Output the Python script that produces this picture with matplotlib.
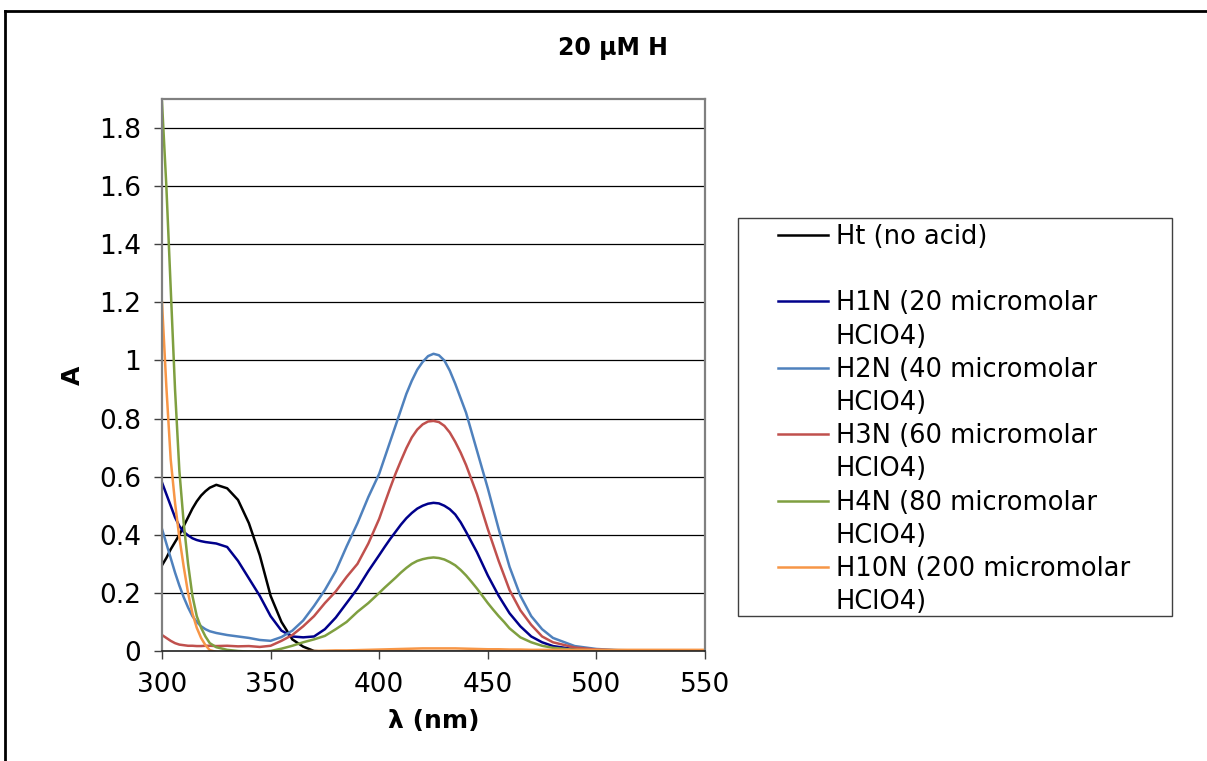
import matplotlib
matplotlib.use("Agg")
import matplotlib.pyplot as plt
from matplotlib.lines import Line2D
from matplotlib.patches import Rectangle

# absorbance spectra, 20 uM H with increasing HClO4
wavelength = [300, 302, 304, 306, 308, 310, 312, 314, 316, 318, 320, 322,
              325, 330, 335, 340, 345, 350, 355, 360, 365, 370, 375, 380, 385, 390, 395,
              400, 402.5, 405, 407.5, 410, 412.5, 415, 417.5, 420, 422.5, 425, 427.5,
              430, 432.5, 435, 437.5, 440, 442.5, 445, 447.5, 450, 452.5, 455, 457.5, 460,
              465, 470, 475, 480, 490, 500, 510, 520, 530, 540, 550]

ht = [0.295, 0.32, 0.35, 0.375, 0.40, 0.43, 0.46, 0.49, 0.515, 0.535, 0.55, 0.562,
      0.572, 0.56, 0.52, 0.44, 0.33, 0.19, 0.10, 0.04, 0.015, 0.0, -0.002, -0.003, -0.003, -0.003, -0.003,
      -0.003, -0.003, -0.003, -0.003, -0.003, -0.003, -0.003, -0.003, -0.003, -0.003, -0.003, -0.003,
      -0.003, -0.003, -0.003, -0.003, -0.003, -0.003, -0.003, -0.003, -0.003, -0.003, -0.003, -0.003, -0.003,
      -0.003, -0.003, -0.003, -0.003, -0.003, -0.003, -0.003, -0.003, -0.003, -0.003, -0.003]

h1n = [0.58, 0.54, 0.50, 0.46, 0.43, 0.41, 0.398, 0.388, 0.382, 0.378, 0.375, 0.373,
       0.37, 0.358, 0.31, 0.25, 0.19, 0.12, 0.07, 0.05, 0.047, 0.05, 0.075, 0.115, 0.165, 0.215, 0.275,
       0.33, 0.358, 0.385, 0.41, 0.435, 0.457, 0.475, 0.49, 0.50, 0.507, 0.51, 0.508,
       0.50, 0.488, 0.47, 0.443, 0.41, 0.375, 0.34, 0.30, 0.26, 0.225, 0.19, 0.16, 0.13,
       0.085, 0.05, 0.03, 0.017, 0.006, 0.002, 0.0, -0.002, -0.002, -0.002, -0.002]

h2n = [0.42, 0.37, 0.32, 0.27, 0.225, 0.185, 0.15, 0.12, 0.1, 0.085, 0.075, 0.068,
       0.062, 0.055, 0.05, 0.045, 0.038, 0.035, 0.048, 0.07, 0.105, 0.155, 0.21, 0.275, 0.36, 0.44, 0.53,
       0.61, 0.665, 0.72, 0.775, 0.83, 0.885, 0.93, 0.968, 0.995, 1.015, 1.023, 1.018,
       1.0, 0.965, 0.92, 0.87, 0.82, 0.755, 0.69, 0.625, 0.56, 0.49, 0.42, 0.355, 0.29,
       0.19, 0.12, 0.075, 0.045, 0.017, 0.007, 0.003, 0.002, 0.001, 0.001, 0.001]

h3n = [0.055, 0.045, 0.035, 0.027, 0.022, 0.02, 0.018, 0.018, 0.017, 0.017, 0.018, 0.018,
       0.017, 0.018, 0.016, 0.017, 0.014, 0.018, 0.035, 0.055, 0.085, 0.12, 0.165, 0.205, 0.255, 0.30, 0.37,
       0.455, 0.508, 0.56, 0.61, 0.655, 0.698, 0.735, 0.762, 0.78, 0.79, 0.792, 0.788,
       0.775, 0.752, 0.72, 0.683, 0.64, 0.59, 0.54, 0.48, 0.42, 0.365, 0.31, 0.26, 0.21,
       0.14, 0.09, 0.05, 0.03, 0.012, 0.005, 0.002, 0.001, 0.001, 0.001, 0.001]

h4n = [1.89, 1.6, 1.25, 0.9, 0.62, 0.44, 0.3, 0.19, 0.12, 0.08, 0.05, 0.027,
       0.013, 0.004, 0.0, -0.002, -0.002, 0.0, 0.008, 0.018, 0.03, 0.04, 0.052, 0.075, 0.10, 0.135, 0.165,
       0.20, 0.218, 0.235, 0.252, 0.27, 0.286, 0.30, 0.31, 0.316, 0.32, 0.322, 0.32,
       0.315, 0.306, 0.295, 0.279, 0.26, 0.238, 0.215, 0.19, 0.165, 0.142, 0.12, 0.1, 0.078,
       0.047, 0.03, 0.018, 0.011, 0.004, 0.002, 0.001, 0.0, 0.0, 0.0, 0.0]

h10n = [1.2, 0.91, 0.66, 0.51, 0.39, 0.29, 0.2, 0.13, 0.08, 0.045, 0.02, 0.003,
        -0.003, -0.005, -0.004, -0.003, -0.003, -0.002, -0.002, -0.001, 0.0, 0.0, 0.001, 0.002, 0.002, 0.003, 0.004,
        0.005, 0.0055, 0.006, 0.0065, 0.007, 0.0075, 0.008, 0.0085, 0.009, 0.009, 0.009, 0.009,
        0.009, 0.009, 0.009, 0.0085, 0.008, 0.0075, 0.007, 0.0065, 0.006, 0.006, 0.006, 0.0055, 0.005,
        0.005, 0.004, 0.004, 0.004, 0.004, 0.004, 0.004, 0.004, 0.004, 0.004, 0.004]

series = [ht, h1n, h2n, h3n, h4n, h10n]
colors = ["#000000", "#00008B", "#4F81BD", "#C0504D", "#7F9F40", "#F79646"]

legend_labels = ["Ht (no acid)", "",
                 "H1N (20 micromolar", "HClO4)",
                 "H2N (40 micromolar", "HClO4)",
                 "H3N (60 micromolar", "HClO4)",
                 "H4N (80 micromolar", "HClO4)",
                 "H10N (200 micromolar", "HClO4)"]

x_ticks = [300, 350, 400, 450, 500, 550]
y_ticks = [0, 0.2, 0.4, 0.6, 0.8, 1.0, 1.2, 1.4, 1.6, 1.8]
y_tick_labels = ["0", "0.2", "0.4", "0.6", "0.8", "1", "1.2", "1.4", "1.6", "1.8"]

W, H = 1207, 761
fig = plt.figure(figsize=(W / 100, H / 100), dpi=100)
ax = fig.add_axes([162 / W, 110 / H, 543 / W, 552 / H])

lines = []
for ys, c in zip(series, colors):
    ln, = ax.plot(wavelength, ys, color=c, lw=1.8, solid_joinstyle="round")
    lines.append(ln)

ax.set_xlim(300, 550)
ax.set_ylim(0, 1.9)
ax.set_xticks(x_ticks)
ax.set_yticks(y_ticks)
ax.set_yticklabels(y_tick_labels)
ax.tick_params(axis="both", labelsize=19, length=6, width=1, color="#404040", pad=9)

for y in y_ticks[1:]:
    ax.axhline(y, color="black", lw=0.9, zorder=0.5)

for side in ["left", "right", "top"]:
    ax.spines[side].set_color("#808080")
    ax.spines[side].set_linewidth(1.6)
ax.spines["bottom"].set_color("#202020")
ax.spines["bottom"].set_linewidth(1.2)

ax.set_ylabel("A", fontsize=18, fontweight="bold", labelpad=10)
ax.set_xlabel("λ (nm)", fontsize=18, fontweight="bold", labelpad=8)
fig.text(613 / W, 1 - 48 / H, "20 µM H", fontsize=17, fontweight="bold",
         ha="center", va="center")

# legend: one row per text line, handle only on the first line of each entry
blank = Line2D([], [], alpha=0)
handles = []
for ln in lines:
    handles.extend([ln, blank])
leg = fig.legend(handles, legend_labels, loc="upper left",
                 bbox_to_anchor=(778 / W, 1 - 224 / H), frameon=False,
                 fontsize=18.5, borderpad=0, borderaxespad=0,
                 handlelength=1.95, handletextpad=0.3, labelspacing=0.28)
fig.add_artist(Rectangle((738 / W, 1 - 616 / H), 434 / W, 398 / H,
                         transform=fig.transFigure, fill=False,
                         edgecolor="#404040", lw=1))

# outer chart border (left and top edges)
fig.add_artist(Line2D([5 / W, 5 / W], [0, 1 - 11 / H], transform=fig.transFigure,
                      color="black", lw=2))
fig.add_artist(Line2D([5 / W, 1], [1 - 11 / H, 1 - 11 / H], transform=fig.transFigure,
                      color="black", lw=2))

fig.savefig("out.png", dpi=100)
